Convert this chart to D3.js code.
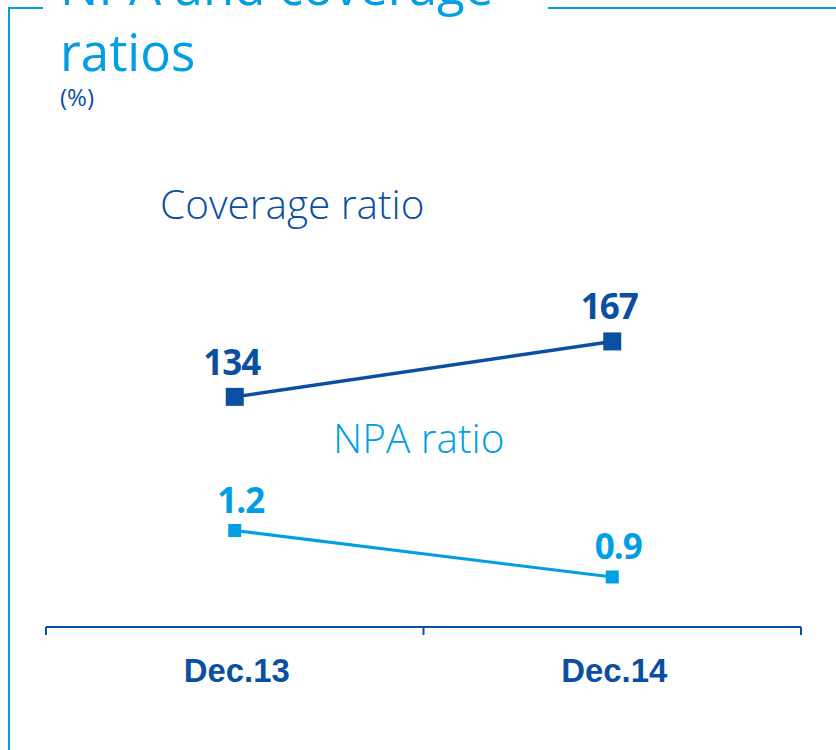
<!DOCTYPE html>
<html>
<head>
<meta charset="utf-8">
<script src="https://cdn.jsdelivr.net/npm/d3@7"></script>
<style>
  html, body { margin: 0; padding: 0; background: #fff; }
  svg { display: block; }
</style>
</head>
<body>
<svg id="chart" width="836" height="750"></svg>
<script>
// Periods on the x axis
const periods = ["Dec.13", "Dec.14"];
// Coverage ratio (%)
const coverageValues = [134, 167];
// Non-performing assets ratio (%)
const npaValues = [1.2, 0.9];
// Title lines
const titleLines = ["NPA and coverage", "ratios"];
const unitLabel = "(%)";

const darkBlue = "#0b4fa3";
const lightBlue = "#009fe3";

const svg = d3.select("#chart");

// Panel frame with a gap for the title
svg.append("path")
  .attr("d", d3.line()([[43, 8], [9, 8], [9, 750]]))
  .attr("fill", "none").attr("stroke", lightBlue).attr("stroke-width", 2);
svg.append("line")
  .attr("x1", 548).attr("x2", 836).attr("y1", 8).attr("y2", 8)
  .attr("stroke", lightBlue).attr("stroke-width", 2);

// Title
svg.append("g").selectAll("text").data(titleLines).join("text")
  .attr("x", 60).attr("y", (d, i) => 5 + i * 66)
  .attr("font-family", "'Open Sans', sans-serif")
  .attr("font-size", 51)
  .attr("fill", lightBlue)
  .text(d => d);
svg.append("text")
  .attr("x", 60).attr("y", 106)
  .attr("font-family", "'Open Sans', sans-serif")
  .attr("font-size", 24).attr("font-weight", 500)
  .attr("fill", darkBlue)
  .text(unitLabel);

// Scales
const x = d3.scaleBand().domain(periods).range([46, 801]).padding(0);
const cx = d => x(d) + x.bandwidth() / 2;
const yCov = d3.scaleLinear().domain([0, 200]).range([622, 286]);
const yNpa = d3.scaleLinear().domain([0, 2]).range([716.5, 406.5]);

// Series labels
svg.append("text")
  .attr("x", 160).attr("y", 219)
  .attr("font-family", "'Open Sans', sans-serif")
  .attr("font-size", 40.5).attr("font-weight", 300)
  .attr("fill", darkBlue)
  .text("Coverage ratio");
svg.append("text")
  .attr("x", 333).attr("y", 453)
  .attr("font-family", "'Open Sans', sans-serif")
  .attr("font-size", 40.5).attr("font-weight", 300)
  .attr("fill", lightBlue)
  .text("NPA ratio");

function drawSeries(values, y, color, width, size, labelDx, labelDy, fmt) {
  const pts = values.map((v, i) => ({ p: periods[i], v }));
  const g = svg.append("g");
  g.append("path")
    .datum(pts)
    .attr("fill", "none")
    .attr("stroke", color)
    .attr("stroke-width", width)
    .attr("d", d3.line().x(d => cx(d.p)).y(d => y(d.v)));
  g.selectAll("rect").data(pts).join("rect")
    .attr("x", d => cx(d.p) - size / 2)
    .attr("y", d => y(d.v) - size / 2)
    .attr("width", size).attr("height", size)
    .attr("fill", color);
  g.selectAll("text").data(pts).join("text")
    .attr("x", d => cx(d.p) + labelDx)
    .attr("y", d => y(d.v) + labelDy)
    .attr("text-anchor", "middle")
    .attr("font-family", "'Open Sans', sans-serif")
    .attr("font-size", 35).attr("font-weight", 700)
    .attr("letter-spacing", -1)
    .attr("fill", color)
    .text(d => fmt(d.v));
}

drawSeries(coverageValues, yCov, darkBlue, 3.5, 18, -3, -22, d3.format("d"));
drawSeries(npaValues, yNpa, lightBlue, 3, 13, 6, -18, d3.format(".1f"));

// X axis: baseline with ticks at category boundaries
const axisY = 627;
const axis = svg.append("g").attr("stroke", darkBlue).attr("stroke-width", 2);
axis.append("line")
  .attr("x1", x.range()[0]).attr("x2", x.range()[1])
  .attr("y1", axisY).attr("y2", axisY);
const bounds = periods.map(p => x(p)).concat([x(periods[periods.length - 1]) + x.bandwidth()]);
axis.selectAll("line.tick").data(bounds).join("line")
  .attr("class", "tick")
  .attr("x1", d => d).attr("x2", d => d)
  .attr("y1", axisY).attr("y2", axisY + 8);

svg.append("g").selectAll("text").data(periods).join("text")
  .attr("x", d => cx(d) + 2)
  .attr("y", 682)
  .attr("text-anchor", "middle")
  .attr("font-family", "'Liberation Sans', Arial, sans-serif")
  .attr("font-size", 34).attr("font-weight", 700)
  .attr("textLength", 106)
  .attr("lengthAdjust", "spacingAndGlyphs")
  .attr("fill", darkBlue)
  .text(d => d);
</script>
</body>
</html>
